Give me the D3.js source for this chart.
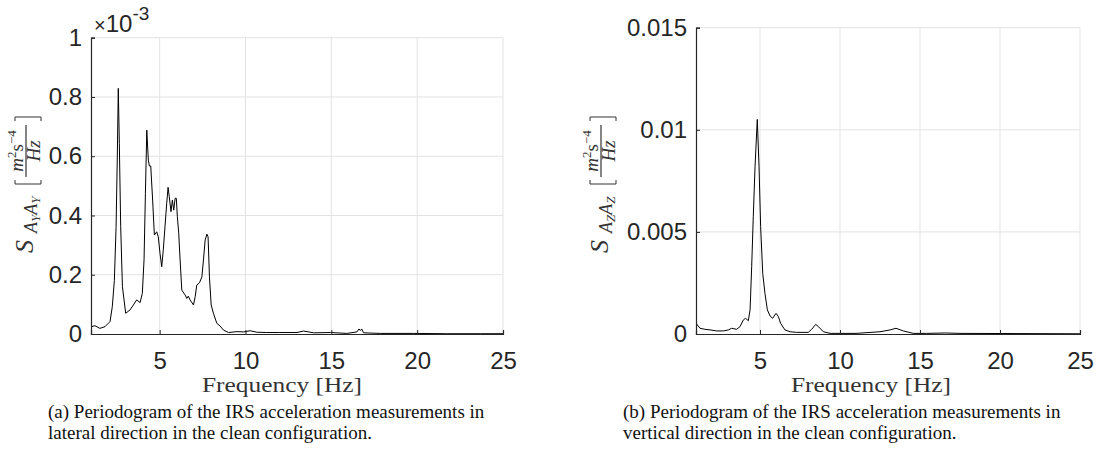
<!DOCTYPE html>
<html>
<head>
<meta charset="utf-8">
<script src="https://cdn.jsdelivr.net/npm/d3@7"></script>
<style>
  body { margin: 0; background: #fff; }
  svg { display: block; }
  .tick-label { font-family: "Liberation Sans", Arial, sans-serif; font-size: 24px; fill: #262626; }
  .serif { font-family: "Liberation Serif", "Times New Roman", serif; fill: #333; }
  .caption { font-family: "Liberation Serif", "Times New Roman", serif; font-size: 19px; fill: #111; }
</style>
</head>
<body>
<div id="screen"></div>
<script>
var width = 1099;
var height = 467;

var xTicks = [5, 10, 15, 20, 25];
var leftYTicks = [0, 0.2, 0.4, 0.6, 0.8, 1];          // x 1e-3
var leftYTickLabels = ["0", "0.2", "0.4", "0.6", "0.8", "1"];
var rightYTicks = [0, 0.005, 0.01, 0.015];
var rightYTickLabels = ["0", "0.005", "0.01", "0.015"];

// lateral periodogram, values in 1e-3 m^2 s^-4 / Hz
var leftFreq = [1.04, 1.23, 1.52, 1.82, 2.11, 2.24, 2.36, 2.46, 2.53, 2.59, 2.65, 2.73, 2.83, 3.02, 3.27, 3.47, 3.66, 3.86, 3.99,
  4.09, 4.17, 4.25, 4.34, 4.40, 4.48, 4.59, 4.69, 4.83, 4.92, 5.02, 5.12, 5.21, 5.31, 5.41, 5.49, 5.56, 5.66, 5.74, 5.82, 5.90,
  5.97, 6.03, 6.11, 6.19, 6.29, 6.48, 6.58, 6.67, 6.77, 6.97, 7.07, 7.16, 7.32, 7.46, 7.55, 7.65, 7.75, 7.82, 7.90, 8.00, 8.13,
  8.33, 8.52, 8.72, 9.01, 9.50, 9.90, 10.27, 10.66, 11.24, 12.0, 13.0, 13.38, 13.97, 14.95, 15.9, 16.49, 16.61, 16.69, 16.77,
  16.88, 17.85, 19.8, 21.7, 23.7, 25];
var leftPsd = [0.025, 0.028, 0.019, 0.025, 0.042, 0.092, 0.18, 0.36, 0.587, 0.829, 0.644, 0.362, 0.16, 0.07, 0.081, 0.098, 0.115,
  0.106, 0.137, 0.25, 0.475, 0.688, 0.587, 0.567, 0.567, 0.452, 0.334, 0.345, 0.328, 0.272, 0.227, 0.283, 0.362, 0.441, 0.495,
  0.463, 0.413, 0.452, 0.418, 0.458, 0.458, 0.396, 0.34, 0.25, 0.148, 0.132, 0.12, 0.128, 0.115, 0.098, 0.126, 0.165, 0.173,
  0.193, 0.25, 0.317, 0.337, 0.328, 0.193, 0.098, 0.07, 0.036, 0.027, 0.013, 0.005, 0.008, 0.007, 0.011, 0.006, 0.005, 0.005,
  0.005, 0.01, 0.004, 0.005, 0.002, 0.007, 0.017, 0.012, 0.017, 0.004, 0.002, 0.002, 0.001, 0.001, 0.001];

// vertical periodogram, values in 1e-3 m^2 s^-4 / Hz
var rightFreq = [1.04, 1.25, 1.56, 1.88, 2.29, 2.71, 3.02, 3.23, 3.54, 3.75, 3.96, 4.10, 4.27, 4.38, 4.48, 4.58, 4.69, 4.83,
  4.94, 5.04, 5.17, 5.31, 5.46, 5.63, 5.79, 6.0, 6.15, 6.29, 6.56, 6.88, 7.29, 8.02, 8.23, 8.48, 8.65, 8.96, 9.38, 11.0, 12.5,
  13.13, 13.5, 13.96, 14.58, 15.4, 16.6, 17.5, 25];
var rightPsd = [0.49, 0.28, 0.23, 0.2, 0.15, 0.15, 0.2, 0.28, 0.23, 0.36, 0.69, 0.77, 0.65, 1.18, 3.3, 5.74, 8.19, 10.51, 8.19,
  5.26, 2.97, 1.99, 1.18, 0.88, 0.77, 1.01, 0.85, 0.52, 0.2, 0.11, 0.08, 0.08, 0.23, 0.47, 0.36, 0.11, 0.03, 0.03, 0.11, 0.2,
  0.28, 0.15, 0.03, 0.03, 0.05, 0.03, 0.01];

var captionA = ["(a) Periodogram of the IRS acceleration measurements in", "lateral direction in the clean configuration."];
var captionB = ["(b) Periodogram of the IRS acceleration measurements in", "vertical direction in the clean configuration."];

var svg = d3.select("#screen").append("svg").attr("width", width).attr("height", height);

var drawPanel = function(opt){
  var x = d3.scaleLinear().domain([1, 25]).range([opt.left, opt.right]);
  var y = d3.scaleLinear().domain(opt.yDomain).range([opt.bottom, opt.top]);
  var g = svg.append("g");

  // grid
  g.selectAll("line.vgrid").data(xTicks).enter().append("line")
    .attr("x1", function(d){ return x(d); }).attr("x2", function(d){ return x(d); })
    .attr("y1", opt.top).attr("y2", opt.bottom)
    .attr("stroke", "#e3e3e3").attr("stroke-width", 1);
  g.selectAll("line.hgrid").data(opt.yTicks.slice(1)).enter().append("line")
    .attr("x1", opt.left).attr("x2", opt.right)
    .attr("y1", function(d){ return y(d); }).attr("y2", function(d){ return y(d); })
    .attr("stroke", "#e3e3e3").attr("stroke-width", 1);

  // curve
  var pts = opt.freq.map(function(f, i){ return [f, opt.psd[i] * opt.unit]; });
  var line = d3.line().x(function(d){ return x(d[0]); }).y(function(d){ return y(d[1]); });
  g.append("path").datum(pts).attr("d", line)
    .attr("fill", "none").attr("stroke", "#000").attr("stroke-width", 1).attr("stroke-linejoin", "round");

  // axes, inward ticks like matlab
  var xAxis = d3.axisBottom(x).tickValues(xTicks).tickSize(-4).tickPadding(10).tickFormat(d3.format("d"));
  var xg = g.append("g").attr("transform", "translate(0," + opt.bottom + ")").call(xAxis);
  var yAxis = d3.axisLeft(y).tickValues(opt.yTicks).tickSize(-4).tickPadding(10)
    .tickFormat(function(d, i){ return opt.yLabels[i]; });
  var yg = g.append("g").attr("transform", "translate(" + opt.left + ",0)").call(yAxis);
  [xg, yg].forEach(function(a){
    a.select(".domain").attr("stroke", "#262626").attr("stroke-width", 1.2);
    a.selectAll(".tick line").attr("stroke", "#262626");
    a.selectAll(".tick text").attr("class", "tick-label").attr("fill", "#262626");
  });
  xg.selectAll(".tick text").attr("dy", "0.71em").attr("y", 18);
  yg.selectAll(".tick text").attr("x", -9);

  // x label
  svg.append("text").attr("class", "serif").attr("x", opt.xLabelX).attr("y", 392)
    .attr("text-anchor", "middle").attr("textLength", 160).attr("lengthAdjust", "spacingAndGlyphs")
    .style("font-size", "20px").text("Frequency [Hz]");

  // y label, rotated
  var yl = svg.append("g").attr("transform", "translate(" + opt.yLabelX + ",253) rotate(-90)");
  yl.append("text").attr("class", "serif").attr("x", 0).attr("y", 0)
    .style("font-size", "26px").style("font-style", "italic").text("S");
  var sub = yl.append("text").attr("class", "serif").style("font-style", "italic");
  sub.append("tspan").attr("x", 20).attr("y", 4).style("font-size", "18px").text("A");
  sub.append("tspan").attr("y", 7).style("font-size", "13px").text(opt.sub);
  sub.append("tspan").attr("y", 4).style("font-size", "18px").text("A");
  sub.append("tspan").attr("y", 7).style("font-size", "13px").text(opt.sub);
  var bracket = function(u, open){
    var s = open ? 4 : -4;
    yl.append("path").attr("d", "M" + (u + s) + ",-18 L" + u + ",-18 L" + u + ",8 L" + (u + s) + ",8")
      .attr("fill", "none").attr("stroke", "#333").attr("stroke-width", 1);
  };
  bracket(69, true);
  bracket(136, false);
  var num = yl.append("text").attr("class", "serif").attr("x", 102).attr("y", -10).attr("text-anchor", "middle");
  num.append("tspan").style("font-size", "19px").style("font-style", "italic").text("m");
  num.append("tspan").attr("dy", -7).style("font-size", "13px").text("2");
  num.append("tspan").attr("dy", 7).style("font-size", "19px").text("s");
  num.append("tspan").attr("dy", -7).style("font-size", "13px").text("−4");
  yl.append("line").attr("x1", 76).attr("x2", 128).attr("y1", -7).attr("y2", -7)
    .attr("stroke", "#333").attr("stroke-width", 1.2);
  yl.append("text").attr("class", "serif").attr("x", 102).attr("y", 7).attr("text-anchor", "middle")
    .style("font-size", "19px").style("font-style", "italic").text("Hz");

  // caption
  var cap = svg.append("text").attr("class", "caption");
  opt.caption.forEach(function(c, i){
    cap.append("tspan").attr("x", opt.capX).attr("y", 418 + i * 21).text(c);
  });
  return g;
};

drawPanel({
  left: 91, right: 503, top: 37.7, bottom: 334, yDomain: [0, 0.001],
  yTicks: leftYTicks.map(function(d){ return d * 1e-3; }), yLabels: leftYTickLabels,
  freq: leftFreq, psd: leftPsd, unit: 1e-3,
  xLabelX: 282, yLabelX: 33, sub: "Y", caption: captionA, capX: 48
});

drawPanel({
  left: 696, right: 1080, top: 27.7, bottom: 334, yDomain: [0, 0.015],
  yTicks: rightYTicks, yLabels: rightYTickLabels,
  freq: rightFreq, psd: rightPsd, unit: 1e-3,
  xLabelX: 871, yLabelX: 608, sub: "Z", caption: captionB, capX: 623
});

// exponent label of left panel
var expo = svg.append("text").attr("class", "tick-label").attr("x", 94).attr("y", 32);
expo.append("tspan").style("font-size", "20px").style("font-weight", "300").text("×");
expo.append("tspan").text("10");
expo.append("tspan").attr("dy", -12).style("font-size", "19px").text("-3");
</script>
</body>
</html>
